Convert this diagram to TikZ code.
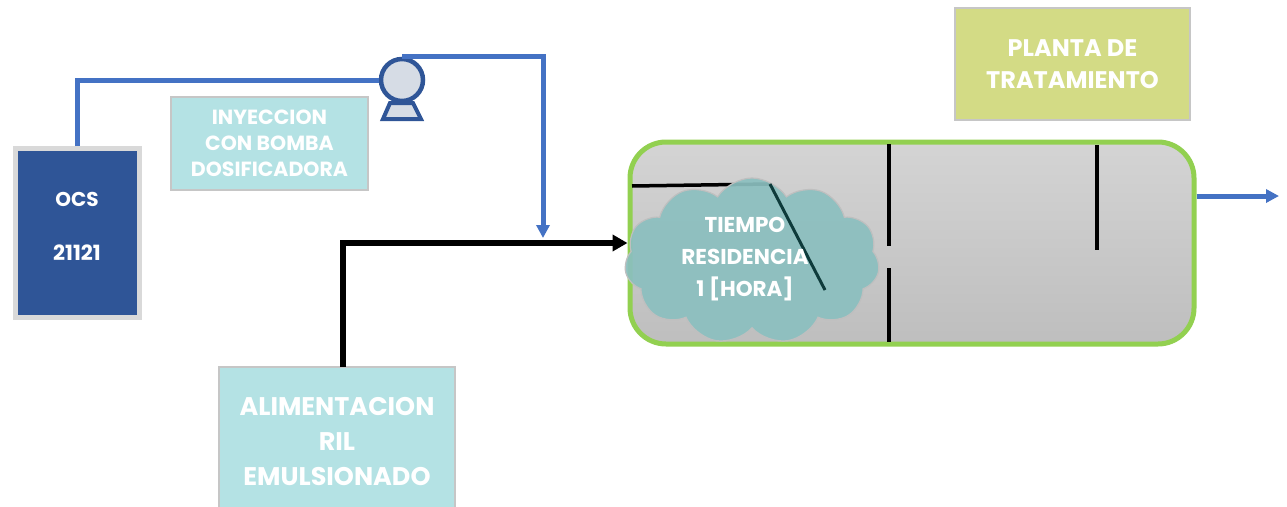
\documentclass[tikz,border=0pt]{standalone}
\usepackage{fontspec}
\setmainfont{Poppins}
\usetikzlibrary{shapes.symbols,arrows.meta}
\definecolor{ocsblue}{HTML}{2F5597}
\definecolor{pipeblue}{HTML}{4472C4}
\definecolor{boxcyan}{HTML}{B4E2E4}
\definecolor{plantagreen}{HTML}{D3DB85}
\definecolor{tankgreen}{HTML}{92D050}
\definecolor{cloudteal}{HTML}{8BBFBF}
\definecolor{tanktop}{HTML}{D4D4D4}
\definecolor{tankbot}{HTML}{BEBEBE}
\definecolor{pumpfill}{HTML}{D6DCE5}
\definecolor{darkteal}{HTML}{0E3B3B}
\tikzset{
  labelbox/.style={draw=gray!45, line width=1.5pt, fill=boxcyan, text=white, font=\bfseries, align=center, inner sep=0pt},
  pipe/.style={draw=pipeblue, line width=5pt},
  feedline/.style={draw=black, line width=6pt},
  baffle/.style={draw=black, line width=3.5pt},
}
\begin{document}
\begin{tikzpicture}[x=1pt,y=-1pt]
\useasboundingbox (0,0) rectangle (1287,506);
% OCS tank
\node[draw=gray!30, line width=5pt, fill=ocsblue, minimum width=124, minimum height=169, inner sep=0pt] (ocs) at (77,233) {};
\node[text=white, font=\bfseries\fontsize{20}{24}\selectfont] (ocsA) at (77,199) {OCS};
\node[text=white, font=\bfseries\fontsize{21}{24}\selectfont] (ocsB) at (77,253) {21121};
% label boxes
\node[labelbox, minimum width=197, minimum height=93, font=\bfseries\fontsize{20.5}{26}\selectfont] (iny) at (269.5,143.5) {INYECCION\\CON BOMBA\\DOSIFICADORA};
\node[labelbox, minimum width=236, minimum height=150, font=\bfseries\fontsize{25.5}{35}\selectfont] (alim) at (337,442) {ALIMENTACION\\RIL\\EMULSIONADO};
\node[labelbox, fill=plantagreen, minimum width=235, minimum height=112, font=\bfseries\fontsize{24}{32}\selectfont] (planta) at (1072.5,64) {PLANTA DE\\TRATAMIENTO};
% pump
\draw[ocsblue, line width=4pt, fill=pumpfill, line join=miter] (390,103) -- (413,103) -- (421,119) -- (383,119) -- cycle;
\node[circle, draw=ocsblue, line width=4.5pt, fill=pumpfill, minimum size=42, inner sep=0pt] (pump) at (402,80) {};
% tank
\node[draw=tankgreen, line width=5pt, rounded corners=36pt, top color=tanktop, bottom color=tankbot, minimum width=564, minimum height=202, inner sep=0pt] (tank) at (912,243) {};
\coordinate (hA) at (632,186);
\coordinate (hB) at (770,184);
\coordinate (hC) at (825,290);
\draw[baffle] (hA) -- (hB);
\coordinate (b1a) at (889,144);
\coordinate (b1b) at (889,246);
\coordinate (b1c) at (889,268);
\coordinate (b1d) at (889,342);
\coordinate (b2a) at (1097,145);
\coordinate (b2b) at (1097,250);
\draw[baffle] (b1a) -- (b1b);
\draw[baffle] (b1c) -- (b1d);
\draw[baffle] (b2a) -- (b2b);
% cloud
\node[cloud, cloud puffs=11, cloud puff arc=115, aspect=1.5, draw=gray!50, line width=1.2pt, fill=cloudteal, fill opacity=0.92, minimum width=255, minimum height=166, inner sep=0pt] (cloud) at (752,261) {};
\draw[darkteal, line width=3pt] (hB) -- (hC);
\node[text=white, font=\bfseries\fontsize{21.5}{32}\selectfont, align=center] (cloudtxt) at (745,259) {TIEMPO\\RESIDENCIA\\1 [HORA]};
% pipes
\draw[pipe] (ocs.north) |- (pump.west);
\coordinate (inj) at (543,238);
\draw[pipe, -{Triangle[length=13pt,width=13pt]}] (pump.north) -| (inj);
\coordinate (feed) at (343,367);
\draw[feedline, -{Triangle[length=15pt,width=16pt]}] (feed) |- (tank.west);
\coordinate (out) at (1279,196);
\draw[pipe, -{Triangle[length=13pt,width=13pt]}] ([yshift=47pt]tank.east) -- (out);
\end{tikzpicture}
\end{document}
